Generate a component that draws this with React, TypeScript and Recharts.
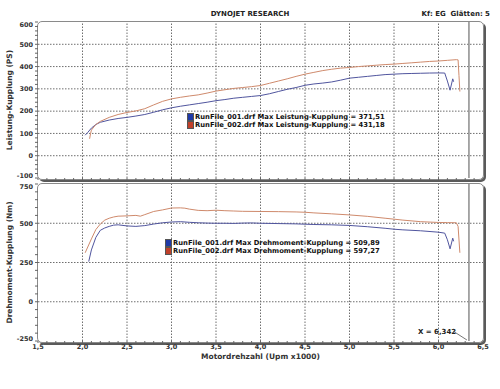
import React from 'react';
import { LineChart, Line, XAxis, YAxis, ReferenceLine, Legend } from 'recharts';

// ---- data ----
const powerRpm001 = [2.03, 2.06, 2.1, 2.15, 2.2, 2.3, 2.4, 2.5, 2.6, 2.7, 2.8, 2.9, 3.0, 3.1, 3.2, 3.3, 3.4, 3.5, 3.6, 3.7, 3.8, 3.9, 4.0, 4.1, 4.2, 4.3, 4.4, 4.5, 4.6, 4.7, 4.8, 4.9, 5.0, 5.1, 5.2, 5.3, 5.4, 5.5, 5.6, 5.7, 5.8, 5.9, 6.0, 6.07, 6.1, 6.13, 6.16, 6.17];
const power001 = [92, 105, 124, 140, 150, 160, 167, 172, 178, 185, 195, 206, 215, 222, 228, 234, 240, 247, 252, 258, 262, 266, 270, 278, 288, 298, 306, 316, 322, 326, 331, 339, 348, 352, 356, 360, 364, 366, 368, 369, 370, 371, 371.5, 371, 335, 294, 345, 332];
const powerRpm002 = [2.08, 2.09, 2.1, 2.15, 2.2, 2.3, 2.4, 2.5, 2.6, 2.7, 2.8, 2.9, 3.0, 3.1, 3.2, 3.3, 3.4, 3.5, 3.6, 3.7, 3.8, 3.9, 4.0, 4.1, 4.2, 4.3, 4.4, 4.5, 4.6, 4.7, 4.8, 4.9, 5.0, 5.1, 5.2, 5.3, 5.4, 5.5, 5.6, 5.7, 5.8, 5.9, 6.0, 6.1, 6.2, 6.22, 6.23, 6.24];
const power002 = [76, 98, 115, 140, 154, 172, 185, 194, 201, 211, 228, 244, 255, 262, 268, 273, 281, 290, 296, 302, 306, 310, 315, 325, 335, 345, 356, 366, 374, 382, 388, 393, 396, 400, 403, 406, 409, 411, 414, 417, 420, 423, 425, 428, 431, 430, 360, 288];

const torqueRpm001 = [2.07, 2.1, 2.15, 2.2, 2.25, 2.3, 2.35, 2.4, 2.5, 2.6, 2.7, 2.8, 2.9, 3.0, 3.1, 3.2, 3.3, 3.4, 3.5, 3.6, 3.7, 3.8, 3.9, 4.0, 4.2, 4.4, 4.5, 4.6, 4.8, 5.0, 5.2, 5.4, 5.5, 5.6, 5.8, 6.0, 6.07, 6.1, 6.13, 6.16, 6.17];
const torque001 = [256, 330, 410, 455, 470, 480, 488, 490, 483, 480, 485, 495, 503, 508, 510, 506, 503, 501, 500, 500, 499, 501, 502, 500, 498, 496, 494, 492, 490, 486, 478, 468, 462, 458, 452, 443, 437, 395, 337, 405, 385];
const torqueRpm002 = [2.03, 2.1, 2.15, 2.2, 2.25, 2.3, 2.35, 2.4, 2.5, 2.6, 2.65, 2.7, 2.8, 2.9, 3.0, 3.1, 3.15, 3.2, 3.3, 3.4, 3.5, 3.6, 3.7, 3.8, 4.0, 4.2, 4.4, 4.5, 4.6, 4.8, 5.0, 5.2, 5.4, 5.5, 5.6, 5.8, 6.0, 6.1, 6.2, 6.22, 6.24];
const torque002 = [312, 400, 460, 495, 520, 532, 540, 545, 547, 550, 545, 555, 575, 585, 597, 598, 596, 590, 582, 580, 583, 580, 578, 576, 575, 574, 572, 570, 566, 560, 553, 544, 532, 526, 520, 510, 505, 504, 503, 480, 312];

const runNames = ['RunFile_001.drf', 'RunFile_002.drf'];
const maxPower = ['371,51', '431,18'];
const maxTorque = ['509,89', '597,27'];
const lineColors = ['#50559e', '#cf8a6c'];
const legendColors = ['#1f3aa8', '#c0402a'];

const xTicks = [1.5, 1.6, 1.7, 1.8, 1.9, 2.0, 2.1, 2.2, 2.3, 2.4, 2.5, 2.6, 2.7, 2.8, 2.9, 3.0, 3.1, 3.2, 3.3, 3.4, 3.5, 3.6, 3.7, 3.8, 3.9, 4.0, 4.1, 4.2, 4.3, 4.4, 4.5, 4.6, 4.7, 4.8, 4.9, 5.0, 5.1, 5.2, 5.3, 5.4, 5.5, 5.6, 5.7, 5.8, 5.9, 6.0, 6.1, 6.2, 6.3, 6.4, 6.5];
const xGrid = [2.0, 2.5, 3.0, 3.5, 4.0, 4.5, 5.0, 5.5, 6.0];
const powerTicks = [-100, -80, -60, -40, -20, 0, 20, 40, 60, 80, 100, 120, 140, 160, 180, 200, 220, 240, 260, 280, 300, 320, 340, 360, 380, 400, 420, 440, 460, 480, 500, 520, 540, 560, 580, 600];
const powerGrid = [0, 100, 200, 300, 400, 500];
const torqueTicks = [-250, -200, -150, -100, -50, 0, 50, 100, 150, 200, 250, 300, 350, 400, 450, 500, 550, 600, 650, 700, 750];
const torqueGrid = [0, 250, 500];
const cursorX = 6.342;

const zip = (xs: number[], ys: number[]) => xs.map((x, i) => ({ rpm: x, v: ys[i] }));

const FONT = 'DejaVu Sans';
const tickStyle = { fontSize: 6.5, fontWeight: 700, fill: '#333', fontFamily: FONT };
const GRID = '#6e6e6e';
const GRID_DASH = '1.5 1.5';

const fmtX = (v: number) => {
  const r = Math.round(v * 10);
  return r % 5 === 0 ? v.toFixed(1).replace('.', ',') : '';
};

// y tick renderer: labels only on major values, edge labels nudged apart
const makeYTick = (major: number, lo: number, hi: number) => (props: any) => {
  const { x, y, payload } = props;
  const v = payload.value;
  if (v % major !== 0) return <g />;
  const dy = v === lo ? -2 : v === hi ? 2.5 : 0;
  return (
    <text x={x} y={y + dy} dy="0.35em" textAnchor="end" fontSize={6.5} fontWeight={700} fill="#333" fontFamily={FONT}>{String(v)}</text>
  );
};

const makeLegend = (label: string, values: string[]) => (props: any) => {
  const payload = props.payload || [];
  return (
    <div style={{ fontFamily: FONT, fontSize: 6.8, fontWeight: 700, color: '#111', lineHeight: '8px' }}>
      {payload.map((p: any, i: number) => (
        <div key={i} style={{ display: 'flex', alignItems: 'center', whiteSpace: 'nowrap' }}>
          <span style={{ display: 'inline-block', width: 5, height: 6, background: legendColors[i], marginRight: 1, border: '0.5px solid #555' }} />
          <span>{`${p.value} Max ${label} = ${values[i]}`}</span>
        </div>
      ))}
    </div>
  );
};

const CursorLabel = (props: any) => {
  const vb = props.viewBox || {};
  const x = vb.x;
  const yb = vb.y + vb.height;
  return (
    <g>
      <text x={x - 51} y={yb - 7} fontSize={7} fontWeight={700} fontFamily={FONT} fill="#222">X = 6,342</text>
      <line x1={x - 16} y1={yb - 10} x2={x - 2} y2={yb - 1} stroke="#555" strokeWidth={0.8} />
    </g>
  );
};

const frameStyle = (top: number, height: number): React.CSSProperties => ({
  position: 'absolute', left: 37, top, width: 445, height,
  border: '1px solid #8a8a8a', borderRadius: 5, boxShadow: '2px 2px 0 #5a5a5a', pointerEvents: 'none',
});

const gridLines = (hVals: number[]) => [
  ...xGrid.map((v) => <ReferenceLine key={'vx' + v} x={v} stroke={GRID} strokeDasharray={GRID_DASH} strokeWidth={1} />),
  ...hVals.map((v) => <ReferenceLine key={'hy' + v} y={v} stroke={GRID} strokeDasharray={GRID_DASH} strokeWidth={1} />),
];

export default function App() {
  return (
    <div style={{ position: 'absolute', left: 0, top: 0, width: 500, height: 389, background: '#fff', overflow: 'hidden', fontFamily: FONT }}>
      <div style={{ position: 'absolute', left: 0, top: 10, width: 500, textAlign: 'center', fontSize: 7, fontWeight: 700, color: '#222' }}>DYNOJET RESEARCH</div>
      <div style={{ position: 'absolute', right: 10, top: 10, fontSize: 7, fontWeight: 700, color: '#222', whiteSpace: 'pre' }}>{'Kf: EG  Glätten: 5'}</div>

      <div style={frameStyle(21, 157)} />
      <div style={frameStyle(183, 158)} />

      <div style={{ position: 'absolute', left: 0, top: 0 }}>
        <LineChart width={500} height={182} margin={{ top: 22, right: 17, bottom: 0, left: 0 }}>
          <XAxis dataKey="rpm" type="number" domain={[1.5, 6.5]} ticks={xTicks} tickFormatter={() => ''} height={4} tickSize={2} axisLine={false} tickLine={{ stroke: '#666' }} interval={0} allowDataOverflow />
          <YAxis type="number" domain={[-100, 600]} ticks={powerTicks} interval={0} width={38} tickSize={3} tickMargin={2} axisLine={false} tickLine={{ stroke: '#666' }} tick={makeYTick(100, -100, 600)}
            label={{ value: 'Leistung-Kupplung (PS)', angle: -90, position: 'insideLeft', offset: 9, style: { textAnchor: 'middle', fontSize: 7.5, fontWeight: 700, fill: '#333', fontFamily: FONT } }} />
          {gridLines(powerGrid)}
          <ReferenceLine x={cursorX} stroke="#8c8c8c" strokeWidth={1.5} />
          <Line data={zip(powerRpm001, power001)} dataKey="v" name={runNames[0]} stroke={lineColors[0]} strokeWidth={1} dot={false} isAnimationActive={false} />
          <Line data={zip(powerRpm002, power002)} dataKey="v" name={runNames[1]} stroke={lineColors[1]} strokeWidth={1} dot={false} isAnimationActive={false} />
          <Legend layout="vertical" align="center" verticalAlign="middle" content={makeLegend('Leistung-Kupplung', maxPower)} wrapperStyle={{ position: 'absolute', left: 187, top: 113, width: 'auto' }} />
        </LineChart>
      </div>

      <div style={{ position: 'absolute', left: 0, top: 178 }}>
        <LineChart width={500} height={211} margin={{ top: 6, right: 17, bottom: 28, left: 0 }}>
          <XAxis dataKey="rpm" type="number" domain={[1.5, 6.5]} ticks={xTicks} tickFormatter={fmtX} height={20} tickSize={2} tickMargin={1} axisLine={false} tickLine={{ stroke: '#666' }} tick={tickStyle} interval={0} allowDataOverflow
            label={{ value: 'Motordrehzahl (Upm x1000)', position: 'insideBottom', offset: 2, style: { fontSize: 7.5, fontWeight: 700, fill: '#333', fontFamily: FONT } }} />
          <YAxis type="number" domain={[-250, 750]} ticks={torqueTicks} interval={0} width={38} tickSize={3} tickMargin={2} axisLine={false} tickLine={{ stroke: '#666' }} tick={makeYTick(250, -250, 750)}
            label={{ value: 'Drehmoment-Kupplung (Nm)', angle: -90, position: 'insideLeft', offset: 9, style: { textAnchor: 'middle', fontSize: 7.5, fontWeight: 700, fill: '#333', fontFamily: FONT } }} />
          {gridLines(torqueGrid)}
          <ReferenceLine x={cursorX} stroke="#8c8c8c" strokeWidth={1.5} label={<CursorLabel />} />
          <Line data={zip(torqueRpm001, torque001)} dataKey="v" name={runNames[0]} stroke={lineColors[0]} strokeWidth={1} dot={false} isAnimationActive={false} />
          <Line data={zip(torqueRpm002, torque002)} dataKey="v" name={runNames[1]} stroke={lineColors[1]} strokeWidth={1} dot={false} isAnimationActive={false} />
          <Legend layout="vertical" align="center" verticalAlign="middle" content={makeLegend('Drehmoment-Kupplung', maxTorque)} wrapperStyle={{ position: 'absolute', left: 165, top: 61, width: 'auto' }} />
        </LineChart>
      </div>
    </div>
  );
}
